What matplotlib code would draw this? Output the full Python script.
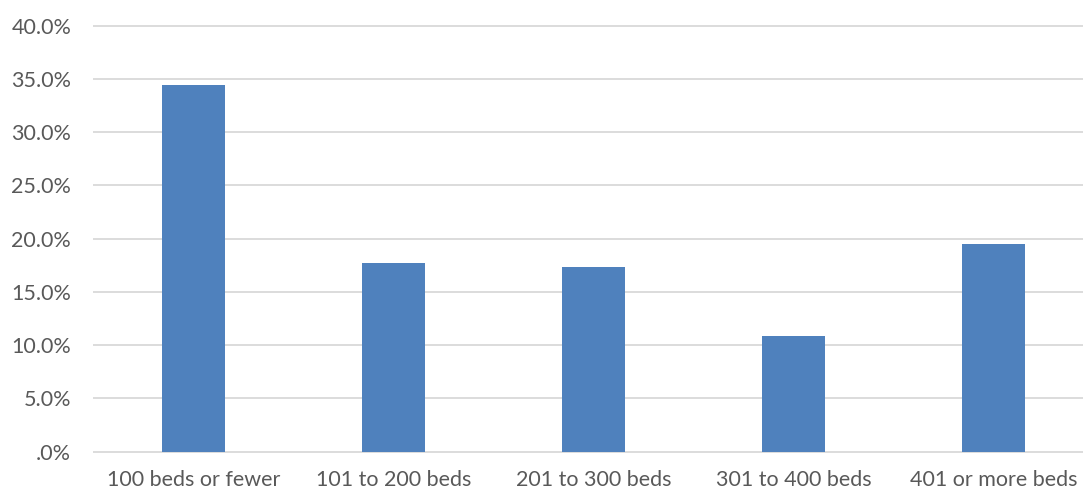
import matplotlib
matplotlib.use('Agg')
import matplotlib.pyplot as plt
from matplotlib.ticker import FuncFormatter

# Data
categories = ['100 beds or fewer', '101 to 200 beds', '201 to 300 beds',
              '301 to 400 beds', '401 or more beds']
percents = [34.4, 17.7, 17.3, 10.9, 19.5]
y_ticks = [0, 5, 10, 15, 20, 25, 30, 35, 40]

plt.rcParams['font.family'] = ['Lato', 'DejaVu Sans']

fig = plt.figure(figsize=(10.83, 4.91), dpi=100)
ax = fig.add_axes([0.0863, 0.0758, 0.9234, 0.8762])

x = range(len(categories))
ax.bar(x, percents, width=0.315, color='#4f81bd', zorder=3)

ax.set_xlim(-0.5, 4.5)
ax.set_ylim(-0.2, 40.2)
ax.set_yticks(y_ticks)
ax.yaxis.set_major_formatter(FuncFormatter(lambda v, p: '.0%' if v == 0 else f'{v:.1f}%'))
ax.set_xticks(list(x))
ax.set_xticklabels(categories)

ax.grid(axis='y', color='#d9d9d9', linewidth=1.3, zorder=0)
for s in ax.spines.values():
    s.set_visible(False)
ax.tick_params(axis='both', length=0, labelsize=15.5, labelcolor='#595959')
ax.tick_params(axis='y', pad=16)
ax.tick_params(axis='x', pad=12)

fig.savefig('out.png', dpi=100)
